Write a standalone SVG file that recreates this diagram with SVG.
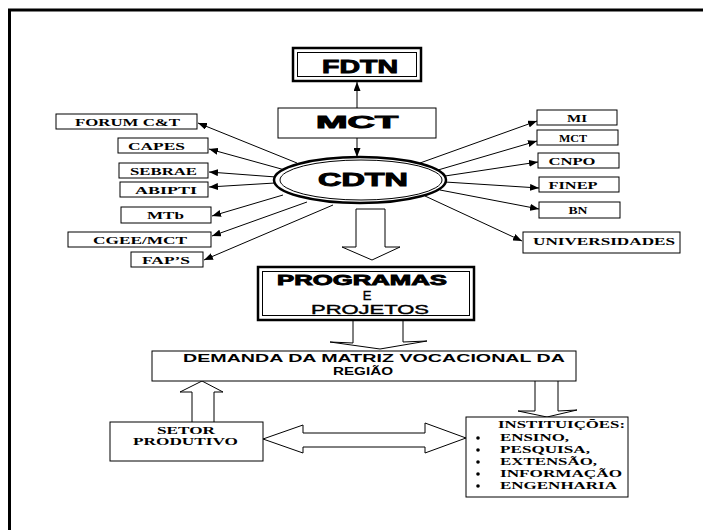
<svg xmlns="http://www.w3.org/2000/svg" width="703" height="530" viewBox="0 0 703 530">
<style>
.bx{fill:#fff;stroke:#000;stroke-width:1}
.tk{fill:#fff;stroke:#000;stroke-width:2.5}
.th{fill:none;stroke:#000;stroke-width:1}
.t{font-family:"Liberation Serif",serif;font-weight:bold;font-size:11px;fill:#000;text-anchor:middle}
.s{font-family:"Liberation Sans",Arial,sans-serif;font-weight:bold;fill:#000;text-anchor:middle}
.r{font-family:"Liberation Sans",Arial,sans-serif;font-weight:normal;fill:#000;stroke:#000;stroke-width:0.4;text-anchor:middle}
.hv{font-family:"Liberation Sans",Arial,sans-serif;font-weight:bold;fill:#000;stroke:#000;stroke-width:0.9;text-anchor:middle}
.ln{fill:none;stroke:#000;stroke-width:1;marker-end:url(#ah)}
.ha{fill:#fff;stroke:#000;stroke-width:1}
</style>
<defs>
<marker id="ah" markerUnits="userSpaceOnUse" markerWidth="9" markerHeight="7" refX="9" refY="3.5" orient="auto">
<path d="M0,0 L9,3.5 L0,7 z" fill="#000"/>
</marker>
</defs>
<rect width="703" height="530" fill="#fff"/>
<g id="frame">
<line x1="8" y1="10" x2="703" y2="10" stroke="#000" stroke-width="3"/>
<line x1="9.5" y1="9" x2="9.5" y2="530" stroke="#000" stroke-width="3"/>
</g>
<g id="connectors">
<line class="ln" x1="357" y1="108" x2="357" y2="82"/>
<line class="ln" x1="357" y1="138" x2="357" y2="157"/>
<line class="ln" x1="297" y1="163" x2="198" y2="123"/>
<line class="ln" x1="285" y1="170" x2="209" y2="149"/>
<line class="ln" x1="276" y1="177" x2="209" y2="172"/>
<line class="ln" x1="275" y1="183" x2="209" y2="187"/>
<line class="ln" x1="283" y1="195" x2="212" y2="216"/>
<line class="ln" x1="307" y1="202" x2="212" y2="236"/>
<line class="ln" x1="333" y1="205" x2="204" y2="260"/>
<line class="ln" x1="420" y1="163" x2="537" y2="121"/>
<line class="ln" x1="438" y1="170" x2="537" y2="141"/>
<line class="ln" x1="445" y1="176" x2="538" y2="162"/>
<line class="ln" x1="445" y1="182" x2="539" y2="188"/>
<line class="ln" x1="440" y1="190" x2="539" y2="209"/>
<line class="ln" x1="425" y1="196" x2="522" y2="241"/>
<polygon class="ha" points="356,209 385,209 385,247 400,247 372,260 342,247 356,247"/>
<path class="ha" d="M353,320 V343 L330,342 L380,349 L427,341 L403,342 V320"/>
<path class="ha" d="M192,422 V392 L180,392 L202,381 L223,392 L214,392 V422"/>
<path class="ha" d="M535,381 V411 L518,411 L547,417 L577,410 L558,411 V381"/>
<polygon class="ha" points="263,439 303,425 303,433 425,433 425,423 466,438 425,453 425,447 303,447 303,453"/>
</g>
<g id="fdtn">
<rect class="tk" x="293" y="48" width="128" height="33"/>
<rect class="th" x="297.5" y="52.5" width="119" height="24"/>
<text class="hv" x="360" y="73" font-size="19" textLength="76" lengthAdjust="spacingAndGlyphs">FDTN</text>
</g>
<g id="mct-top">
<rect class="bx" x="278" y="108" width="158" height="30"/>
<text class="hv" x="357" y="128" font-size="16" textLength="82" lengthAdjust="spacingAndGlyphs">MCT</text>
</g>
<g id="cdtn">
<ellipse cx="360" cy="180" rx="86" ry="23" fill="#fff" stroke="#000" stroke-width="2.5"/>
<ellipse cx="361" cy="180" rx="81" ry="20" fill="none" stroke="#000" stroke-width="1"/>
<text class="hv" x="363" y="186" font-size="18" textLength="90" lengthAdjust="spacingAndGlyphs">CDTN</text>
</g>
<g id="forum">
<rect class="bx" x="56" y="114" width="141" height="15"/>
<text class="t" x="127.5" y="126" textLength="105" lengthAdjust="spacingAndGlyphs">FORUM C&amp;T</text>
</g>
<g id="capes">
<rect class="bx" x="118" y="138" width="90" height="15"/>
<text class="t" x="156.5" y="150" textLength="57" lengthAdjust="spacingAndGlyphs">CAPES</text>
</g>
<g id="sebrae">
<rect class="bx" x="119" y="163" width="89" height="15"/>
<text class="t" x="163.5" y="175" textLength="67" lengthAdjust="spacingAndGlyphs">SEBRAE</text>
</g>
<g id="abipti">
<rect class="bx" x="120" y="182" width="88" height="15"/>
<text class="t" x="166" y="194" textLength="62" lengthAdjust="spacingAndGlyphs">ABIPTI</text>
</g>
<g id="mtb">
<rect class="bx" x="121" y="207" width="90" height="16"/>
<text class="t" x="165.5" y="219" textLength="37" lengthAdjust="spacingAndGlyphs">MTb</text>
</g>
<g id="cgee">
<rect class="bx" x="68" y="232" width="143" height="15"/>
<text class="t" x="140" y="244" textLength="94" lengthAdjust="spacingAndGlyphs">CGEE/MCT</text>
</g>
<g id="faps">
<rect class="bx" x="131" y="252" width="72" height="15"/>
<text class="t" x="166" y="264" textLength="48" lengthAdjust="spacingAndGlyphs">FAP’S</text>
</g>
<g id="mi">
<rect class="bx" x="537" y="110" width="80" height="15"/>
<text class="t" x="577" y="122" textLength="20" lengthAdjust="spacingAndGlyphs">MI</text>
</g>
<g id="mct-right">
<rect class="bx" x="537" y="130" width="81" height="15"/>
<text class="t" x="573" y="142" textLength="28" lengthAdjust="spacingAndGlyphs">MCT</text>
</g>
<g id="cnpo">
<rect class="bx" x="538" y="153" width="81" height="15"/>
<text class="t" x="572" y="165" textLength="47" lengthAdjust="spacingAndGlyphs">CNPO</text>
</g>
<g id="finep">
<rect class="bx" x="539" y="177" width="80" height="15"/>
<text class="t" x="573" y="189" textLength="49" lengthAdjust="spacingAndGlyphs">FINEP</text>
</g>
<g id="bn">
<rect class="bx" x="539" y="202" width="81" height="16"/>
<text class="t" x="578" y="214" textLength="19" lengthAdjust="spacingAndGlyphs">BN</text>
</g>
<g id="universidades">
<rect class="bx" x="523" y="232" width="157" height="21"/>
<text class="t" x="604" y="245" textLength="142" lengthAdjust="spacingAndGlyphs">UNIVERSIDADES</text>
</g>
<g id="programas">
<rect class="tk" x="258" y="267" width="216" height="53"/>
<rect class="th" x="262.5" y="271.5" width="207" height="44"/>
<text class="hv" x="362" y="285" font-size="15" textLength="170" lengthAdjust="spacingAndGlyphs">PROGRAMAS</text>
<text class="r" x="367" y="300" font-size="13">E</text>
<text class="r" x="370" y="314" font-size="13" textLength="118" lengthAdjust="spacingAndGlyphs">PROJETOS</text>
</g>
<g id="demanda">
<rect class="bx" x="152" y="351" width="424" height="30"/>
<text class="s" x="374" y="362" font-size="11.5" textLength="382" lengthAdjust="spacingAndGlyphs">DEMANDA DA MATRIZ VOCACIONAL DA</text>
<text class="s" x="363" y="375" font-size="11.5" textLength="60" lengthAdjust="spacingAndGlyphs">REGIÃO</text>
</g>
<g id="setor">
<rect class="bx" x="110" y="422" width="153" height="39"/>
<text class="t" x="186" y="434" textLength="58" lengthAdjust="spacingAndGlyphs">SETOR</text>
<text class="t" x="185.5" y="445" textLength="105" lengthAdjust="spacingAndGlyphs">PRODUTIVO</text>
</g>
<g id="instituicoes">
<rect class="bx" x="466" y="417" width="162" height="80"/>
<g class="t" style="text-anchor:start">
<text x="498" y="428" textLength="127" lengthAdjust="spacingAndGlyphs">INSTITUIÇÕES:</text>
<text x="500" y="441" textLength="69" lengthAdjust="spacingAndGlyphs">ENSINO,</text>
<text x="500" y="453" textLength="90" lengthAdjust="spacingAndGlyphs">PESQUISA,</text>
<text x="500" y="465" textLength="97" lengthAdjust="spacingAndGlyphs">EXTENSÃO,</text>
<text x="500" y="477" textLength="122" lengthAdjust="spacingAndGlyphs">INFORMAÇÃO</text>
<text x="500" y="489" textLength="117" lengthAdjust="spacingAndGlyphs">ENGENHARIA</text>
</g>
<circle cx="478" cy="438" r="1.8"/>
<circle cx="478" cy="450" r="1.8"/>
<circle cx="478" cy="462" r="1.8"/>
<circle cx="478" cy="474" r="1.8"/>
<circle cx="478" cy="486" r="1.8"/>
</g>
</svg>
